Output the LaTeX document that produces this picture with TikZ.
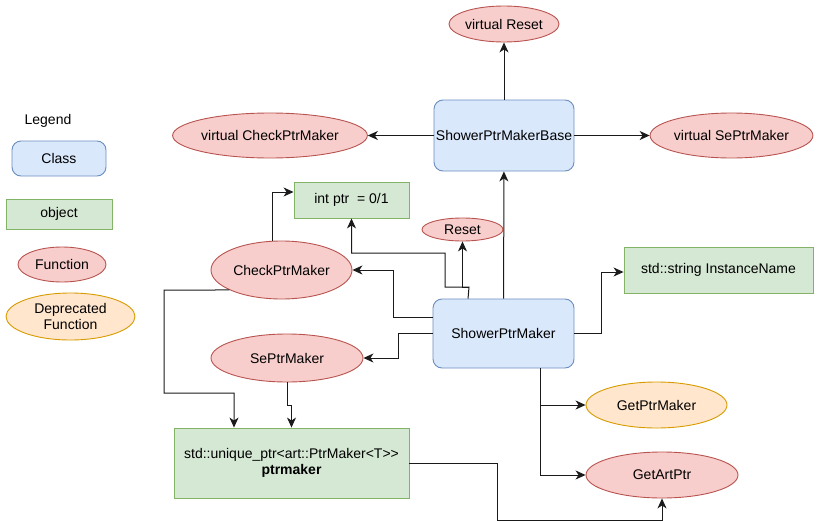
\documentclass[tikz,border=0pt]{standalone}
\usepackage{fontspec}
\setmainfont{Liberation Sans}
\usetikzlibrary{shapes.geometric,arrows.meta}
\definecolor{bfill}{HTML}{DAE8FC}\definecolor{bline}{HTML}{6C8EBF}
\definecolor{gfill}{HTML}{D5E8D4}\definecolor{gline}{HTML}{82B366}
\definecolor{rfill}{HTML}{F8CECC}\definecolor{rline}{HTML}{B85450}
\definecolor{ofill}{HTML}{FFE6CC}\definecolor{oline}{HTML}{D79B00}
\definecolor{edge}{HTML}{1A1A1A}
\tikzset{
  base/.style={inner sep=0pt, line width=0.9pt, font=\fontsize{14}{16.5}\selectfont, align=center},
  classbox/.style={base, rectangle, rounded corners=9pt, draw=bline, fill=bfill},
  objbox/.style={base, rectangle, draw=gline, fill=gfill},
  fnell/.style={base, ellipse, draw=rline, fill=rfill},
  depell/.style={base, ellipse, draw=oline, fill=ofill},
  arr/.style={draw=edge, line width=1pt, -{Stealth[length=10pt,width=9pt,inset=3pt]}},
}
\begin{document}
\begin{tikzpicture}[x=1pt,y=-1pt]
\useasboundingbox (0,0) rectangle (822,522);
% legend
\node[base] (legend) at (48,121) {Legend};
\node[classbox, minimum width=94pt, minimum height=35pt] (lclass) at (59,158.5) {Class};
\node[objbox, minimum width=106pt, minimum height=30pt] (lobj) at (59,214) {object};
\node[fnell, minimum width=88pt, minimum height=35pt] (lfn) at (62,264.5) {Function};
\node[depell, minimum width=129pt, minimum height=47pt] (ldep) at (70.5,316.5) {Deprecated\\Function};
% main nodes
\node[classbox, minimum width=140pt, minimum height=71pt] (basecls) at (504,135.5) {ShowerPtrMakerBase};
\node[fnell, minimum width=105pt, minimum height=36pt] (vreset) at (504,24) {virtual Reset};
\node[fnell, minimum width=166pt, minimum height=45pt] (vcheck) at (270,135.5) {virtual CheckPtrMaker};
\node[fnell, minimum width=153pt, minimum height=45pt] (vse) at (731.5,135.5) {virtual SePtrMaker};
\node[objbox, minimum width=115pt, minimum height=36pt] (intptr) at (351.5,200) {int ptr \ = 0/1};
\node[fnell, minimum width=81pt, minimum height=23pt] (reset) at (462.5,229.5) {Reset};
\node[fnell, minimum width=141pt, minimum height=58pt] (check) at (281.5,270) {CheckPtrMaker};
\node[objbox, minimum width=189pt, minimum height=46pt] (instance) at (718.5,270) {std::string InstanceName};
\node[classbox, minimum width=141pt, minimum height=69pt] (spm) at (503.5,333.5) {ShowerPtrMaker};
\node[fnell, minimum width=152pt, minimum height=48pt] (sep) at (287,358) {SePtrMaker};
\node[depell, minimum width=141pt, minimum height=46pt] (getptr) at (656.5,405) {GetPtrMaker};
\node[fnell, minimum width=152pt, minimum height=46pt] (getart) at (662,475) {GetArtPtr};
\node[objbox, minimum width=235pt, minimum height=70pt] (unique) at (291.5,463) {std::unique\_ptr<art::PtrMaker<T>{}>\\\textbf{ptrmaker}};
% connectors
\draw[arr] (basecls) -- (vreset);
\draw[arr] (basecls) -- (vcheck);
\draw[arr] (basecls) -- (vse);
\draw[arr] (spm) -- (basecls);
\coordinate (split) at (469,287);
\draw[arr] ([xshift=35.5pt]spm.north west) -- (split) -- (445,287) -- (445,253) -| (intptr.south);
\draw[arr] (split) -- (462.5,287) -- (reset.south);
\draw[arr] ([yshift=16.5pt]spm.west) -- (393,317) |- (check.east);
\draw[arr] (spm.west) -- (398,333.5) |- (sep.east);
\draw[arr] (272,0 |- check.north) |- ([yshift=8pt]intptr.west);
\draw[arr] (check.201) -- (164,290) -- (164,393) -| ([xshift=-57.5pt]unique.north);
\draw[arr] (sep.south) -- (287,405) -| (unique.north);
\draw[arr] (spm.east) -- (601,333.5) |- ([yshift=-2pt]instance.west);
\draw[arr] ([xshift=36.5pt]spm.south) |- (getptr.west);
\draw[arr] ([xshift=36.5pt]spm.south) |- (getart.west);
\draw[arr] (unique.east) -- (497,463) -- (497,520) -| (getart.south);
\end{tikzpicture}
\end{document}
